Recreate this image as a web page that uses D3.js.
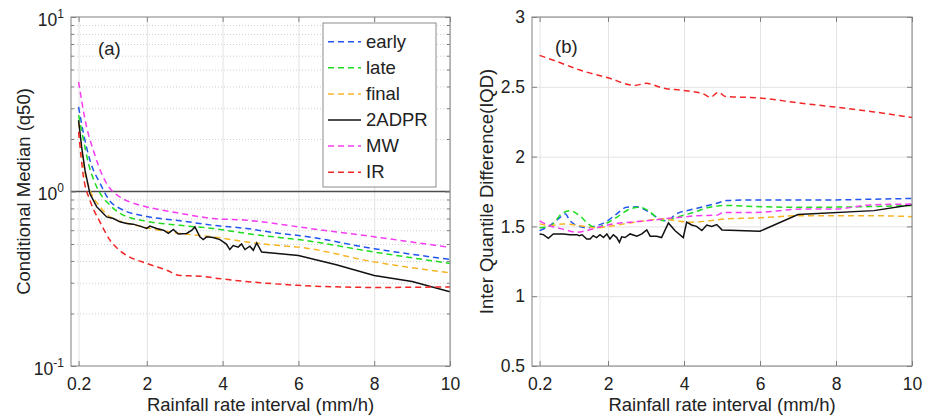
<!DOCTYPE html>
<html>
<head>
<meta charset="utf-8">
<script src="https://cdn.jsdelivr.net/npm/d3@7"></script>
<style>
  body { margin: 0; background: #fff; }
  svg { font-family: "Liberation Sans", Arial, sans-serif; }
</style>
</head>
<body>
<svg width="929" height="419"></svg>
<script>
// ---- data (a) conditional median, [rain rate, q50]
const seriesNames = ["early", "late", "final", "2ADPR", "MW", "IR"];

const earlyMedian = [[0.2,3.05],[0.33,2.15],[0.5,1.51],[0.77,1.11],[1.03,0.88],[1.29,0.80],[2,0.72],[2.88,0.68],[3.75,0.64],[4.63,0.614],[5.5,0.575],[6,0.56],[8,0.47],[10,0.408]];
const lateMedian = [[0.2,2.74],[0.33,1.97],[0.46,1.45],[0.68,1.06],[1.03,0.835],[1.29,0.75],[2,0.675],[2.88,0.64],[3.75,0.614],[4.63,0.575],[5.5,0.545],[6,0.53],[8,0.45],[10,0.387]];
const finalMedian = [[0.2,2.5],[0.37,1.27],[0.5,1.02],[0.77,0.816],[1.03,0.715],[1.47,0.66],[2,0.62],[2.88,0.575],[3.75,0.55],[4.63,0.514],[5.5,0.49],[6,0.48],[8,0.395],[10,0.342]];
const dprMedian = [[0.2,2.56],[0.28,1.8],[0.37,1.32],[0.5,0.97],[0.68,0.816],[0.77,0.78],[0.94,0.715],[1.12,0.70],[1.29,0.67],[1.47,0.655],[1.64,0.65],[1.82,0.633],[2,0.614],[2.08,0.633],[2.26,0.614],[2.44,0.60],[2.57,0.575],[2.7,0.606],[2.83,0.57],[3.05,0.575],[3.19,0.60],[3.27,0.627],[3.4,0.55],[3.49,0.53],[3.58,0.55],[3.75,0.545],[3.93,0.53],[4.1,0.50],[4.19,0.465],[4.28,0.49],[4.41,0.48],[4.5,0.50],[4.59,0.465],[4.72,0.486],[4.81,0.46],[4.9,0.507],[5.03,0.45],[6,0.43],[7,0.38],[8,0.33],[9,0.305],[10,0.266]];
const mwMedian = [[0.2,4.25],[0.41,2.35],[0.59,1.72],[0.85,1.21],[1.03,1.04],[1.29,0.93],[1.56,0.87],[2,0.816],[2.88,0.75],[3.75,0.70],[4.63,0.685],[5.5,0.65],[6,0.627],[8,0.55],[10,0.478]];
const irMedian = [[0.2,2.2],[0.33,1.21],[0.5,0.89],[0.77,0.665],[1.03,0.526],[1.29,0.458],[1.47,0.43],[2,0.387],[2.52,0.354],[2.88,0.33],[3.4,0.327],[3.9,0.317],[5,0.30],[6,0.29],[8,0.282],[10,0.284]];

// ---- data (b) inter quantile difference, [rain rate, IQD]
const earlyIqd = [[0.2,1.47],[0.47,1.505],[0.74,1.565],[0.87,1.59],[1,1.54],[1.18,1.506],[1.44,1.49],[1.7,1.505],[1.97,1.537],[2.23,1.59],[2.49,1.637],[2.76,1.64],[2.93,1.625],[3.1,1.60],[3.28,1.565],[3.54,1.54],[3.8,1.59],[4.16,1.618],[4.5,1.64],[4.86,1.666],[5.12,1.685],[6,1.69],[7,1.69],[8,1.69],[9,1.695],[10,1.70]];
const lateIqd = [[0.2,1.49],[0.47,1.50],[0.78,1.59],[1,1.613],[1.26,1.575],[1.48,1.518],[1.7,1.49],[1.93,1.518],[2.23,1.565],[2.58,1.625],[2.84,1.637],[3.06,1.613],[3.28,1.565],[3.46,1.54],[3.8,1.565],[4.24,1.60],[4.68,1.637],[5.12,1.65],[5.88,1.642],[7.14,1.637],[8.9,1.642],[10,1.65]];
const finalIqd = [[0.2,1.518],[0.47,1.505],[0.82,1.518],[1.26,1.505],[1.7,1.49],[2.14,1.505],[2.58,1.525],[3.1,1.546],[3.46,1.554],[3.8,1.54],[4.16,1.53],[4.68,1.54],[5.12,1.554],[5.88,1.56],[7.14,1.577],[8.9,1.577],[10,1.57]];
const dprIqd = [[0.2,1.446],[0.3,1.441],[0.43,1.415],[0.56,1.446],[0.82,1.446],[1,1.44],[1.18,1.441],[1.24,1.433],[1.32,1.44],[1.44,1.41],[1.53,1.41],[1.61,1.434],[1.7,1.42],[1.79,1.44],[1.88,1.42],[1.97,1.446],[2.05,1.41],[2.14,1.44],[2.23,1.42],[2.3,1.386],[2.36,1.425],[2.45,1.42],[2.58,1.446],[2.76,1.43],[2.89,1.446],[3.02,1.475],[3.11,1.43],[3.28,1.43],[3.41,1.42],[3.59,1.525],[3.76,1.47],[3.98,1.42],[4.07,1.53],[4.2,1.51],[4.33,1.50],[4.47,1.47],[4.6,1.51],[4.73,1.50],[4.86,1.513],[5,1.475],[6,1.465],[7,1.585],[9,1.613],[10,1.656]];
const mwIqd = [[0.2,1.54],[0.47,1.505],[0.82,1.48],[1.18,1.458],[1.44,1.47],[1.7,1.49],[2.14,1.518],[2.58,1.53],[3.02,1.54],[3.46,1.554],[3.9,1.565],[4.34,1.577],[4.86,1.58],[5.03,1.60],[5.88,1.60],[7.14,1.625],[8,1.625],[8.9,1.654],[10,1.66]];
const irIqd = [[0.2,2.725],[0.65,2.682],[1.26,2.62],[2,2.565],[2.7,2.51],[3,2.525],[3.46,2.49],[3.98,2.474],[4.5,2.45],[4.7,2.425],[4.9,2.46],[5.1,2.43],[6,2.42],[7,2.385],[8,2.354],[9,2.32],[10,2.28]];

const xTicks = [0.2, 2, 4, 6, 8, 10];
const yTicksLog = [0.1, 1, 10];
const yTicksIqd = [0.5, 1, 1.5, 2, 2.5, 3];

// ---- styles
const colors = { early: "#2255ee", late: "#1fdd1f", final: "#f7b526", "2ADPR": "#111", MW: "#f53cf0", IR: "#f22626" };
const axisColor = "#808080";
const gridColor = "#e3e3e3";

const svg = d3.select("svg");
svg.append("rect").attr("width", 929).attr("height", 419).attr("fill", "#fff");

const plotTop = 17, plotBottom = 366;

function drawPanel(cfg) {
  const { x, y, series, id } = cfg;
  const [x0, x1] = x.range();
  const g = svg.append("g");

  g.append("clipPath").attr("id", id).append("rect")
    .attr("x", x0).attr("y", plotTop).attr("width", x1 - x0).attr("height", plotBottom - plotTop);

  // vertical grid
  g.append("g").attr("transform", `translate(0,${plotBottom})`)
    .call(d3.axisBottom(x).tickValues(xTicks).tickSize(-(plotBottom - plotTop)).tickFormat(""))
    .call(s => s.select(".domain").remove())
    .selectAll("line").attr("stroke", gridColor);

  // horizontal grid
  cfg.hGrid(g);

  // lines
  const plot = g.append("g").attr("clip-path", `url(#${id})`);
  seriesNames.forEach(name => {
    const solid = name === "2ADPR";
    const line = d3.line()
      .x(d => x(d[0]))
      .y(d => y(d[1]))
      .curve(solid ? d3.curveLinear : d3.curveMonotoneX);
    plot.append("path")
      .datum(series[name])
      .attr("d", line)
      .attr("fill", "none")
      .attr("stroke", colors[name])
      .attr("stroke-width", 1.5)
      .attr("stroke-dasharray", solid ? null : "6,4");
  });

  // box
  g.append("rect").attr("x", x0).attr("y", plotTop).attr("width", x1 - x0).attr("height", plotBottom - plotTop)
    .attr("fill", "none").attr("stroke", axisColor);

  // x ticks (bottom with labels, top without)
  const xb = g.append("g").attr("transform", `translate(0,${plotBottom})`)
    .call(d3.axisBottom(x).tickValues(xTicks).tickSizeInner(-5).tickSizeOuter(0).tickPadding(12).tickFormat(d => String(d)));
  const xt = g.append("g").attr("transform", `translate(0,${plotTop})`)
    .call(d3.axisTop(x).tickValues(xTicks).tickSizeInner(-5).tickSizeOuter(0).tickFormat(""));
  [xb, xt].forEach(a => {
    a.select(".domain").remove();
    a.selectAll("line").attr("stroke", axisColor);
    a.selectAll("text").attr("fill", "#222").attr("font-size", 17.5).attr("font-family", "Liberation Sans, Arial, sans-serif");
  });

  cfg.yAxes(g);

  // x label
  g.append("text").attr("x", (x0 + x1) / 2).attr("y", 411).attr("text-anchor", "middle")
    .attr("font-size", 18.5).attr("fill", "#222").text("Rainfall rate interval (mm/h)");
}

// ---- panel (a)
const xL = d3.scaleLinear().domain([0, 10]).range([71, 450]);
const yL = d3.scaleLog().domain([0.1, 10]).range([plotBottom, plotTop]);
const minorLog = [0.2,0.3,0.4,0.5,0.6,0.7,0.8,0.9,2,3,4,5,6,7,8,9];

drawPanel({
  id: "clipA", x: xL, y: yL,
  series: { early: earlyMedian, late: lateMedian, final: finalMedian, "2ADPR": dprMedian, MW: mwMedian, IR: irMedian },
  hGrid(g) {
    g.append("g").attr("transform", `translate(${xL.range()[0]},0)`)
      .call(d3.axisLeft(yL).tickValues(minorLog).tickSize(-(xL.range()[1] - xL.range()[0])).tickFormat(""))
      .call(s => s.select(".domain").remove())
      .selectAll("line").attr("stroke", "#cfcfcf").attr("stroke-dasharray", "1,2");
    g.append("line").attr("x1", xL.range()[0]).attr("x2", xL.range()[1])
      .attr("y1", yL(1)).attr("y2", yL(1)).attr("stroke", "#4d4d4d").attr("stroke-width", 1.6);
  },
  yAxes(g) {
    const [x0, x1] = xL.range();
    [[x0, d3.axisLeft], [x1, d3.axisRight]].forEach(([xp, ax]) => {
      const a = g.append("g").attr("transform", `translate(${xp},0)`)
        .call(ax(yL).tickValues(yTicksLog).tickSizeInner(-5).tickSizeOuter(0).tickFormat(""));
      a.select(".domain").remove();
      a.selectAll("line").attr("stroke", axisColor);
      const m = g.append("g").attr("transform", `translate(${xp},0)`)
        .call(ax(yL).tickValues(minorLog).tickSizeInner(-3).tickSizeOuter(0).tickFormat(""));
      m.select(".domain").remove();
      m.selectAll("line").attr("stroke", axisColor);
    });
    yTicksLog.forEach(v => {
      const t = g.append("text").attr("x", 64).attr("y", yL(v) + 8.5).attr("text-anchor", "end")
        .attr("fill", "#222").attr("font-size", 17.5);
      t.append("tspan").text("10");
      t.append("tspan").attr("dy", -8).attr("font-size", 12).text(String(Math.round(Math.log10(v))));
    });
    g.append("text").attr("transform", `translate(30,${(plotTop + plotBottom) / 2}) rotate(-90)`)
      .attr("text-anchor", "middle").attr("font-size", 18.5).attr("fill", "#222")
      .text("Conditional Median (q50)");
    g.append("text").attr("x", 98).attr("y", 55).attr("font-size", 18.5).attr("fill", "#222").text("(a)");

    // legend
    const lg = g.append("g");
    lg.append("rect").attr("x", 323).attr("y", 23).attr("width", 113).attr("height", 164)
      .attr("fill", "#fff").attr("stroke", "#8c8c8c");
    seriesNames.forEach((name, i) => {
      const ly = 41.7 + i * 26.1;
      lg.append("line").attr("x1", 328).attr("x2", 361).attr("y1", ly).attr("y2", ly)
        .attr("stroke", colors[name]).attr("stroke-width", 1.5)
        .attr("stroke-dasharray", name === "2ADPR" ? null : "6,4");
      lg.append("text").attr("x", 366).attr("y", ly + 6).attr("font-size", 18.5).attr("fill", "#222").text(name);
    });
  }
});

// ---- panel (b)
const xR = d3.scaleLinear().domain([0, 10]).range([532, 912]);
const yR = d3.scaleLinear().domain([0.5, 3]).range([plotBottom, plotTop]);

drawPanel({
  id: "clipB", x: xR, y: yR,
  series: { early: earlyIqd, late: lateIqd, final: finalIqd, "2ADPR": dprIqd, MW: mwIqd, IR: irIqd },
  hGrid(g) {
    g.append("g").attr("transform", `translate(${xR.range()[0]},0)`)
      .call(d3.axisLeft(yR).tickValues(yTicksIqd).tickSize(-(xR.range()[1] - xR.range()[0])).tickFormat(""))
      .call(s => s.select(".domain").remove())
      .selectAll("line").attr("stroke", gridColor);
  },
  yAxes(g) {
    const [x0, x1] = xR.range();
    const a = g.append("g").attr("transform", `translate(${x0},0)`)
      .call(d3.axisLeft(yR).tickValues(yTicksIqd).tickSizeInner(-5).tickSizeOuter(0).tickPadding(7).tickFormat(d => String(d)));
    const b = g.append("g").attr("transform", `translate(${x1},0)`)
      .call(d3.axisRight(yR).tickValues(yTicksIqd).tickSizeInner(-5).tickSizeOuter(0).tickFormat(""));
    [a, b].forEach(s => {
      s.select(".domain").remove();
      s.selectAll("line").attr("stroke", axisColor);
      s.selectAll("text").attr("fill", "#222").attr("font-size", 17.5).attr("font-family", "Liberation Sans, Arial, sans-serif");
    });
    g.append("text").attr("transform", `translate(493,${(plotTop + plotBottom) / 2}) rotate(-90)`)
      .attr("text-anchor", "middle").attr("font-size", 18.5).attr("fill", "#222")
      .text("Inter Quantile Difference(IQD)");
    g.append("text").attr("x", 555).attr("y", 53).attr("font-size", 18.5).attr("fill", "#222").text("(b)");
  }
});
</script>
</body>
</html>
